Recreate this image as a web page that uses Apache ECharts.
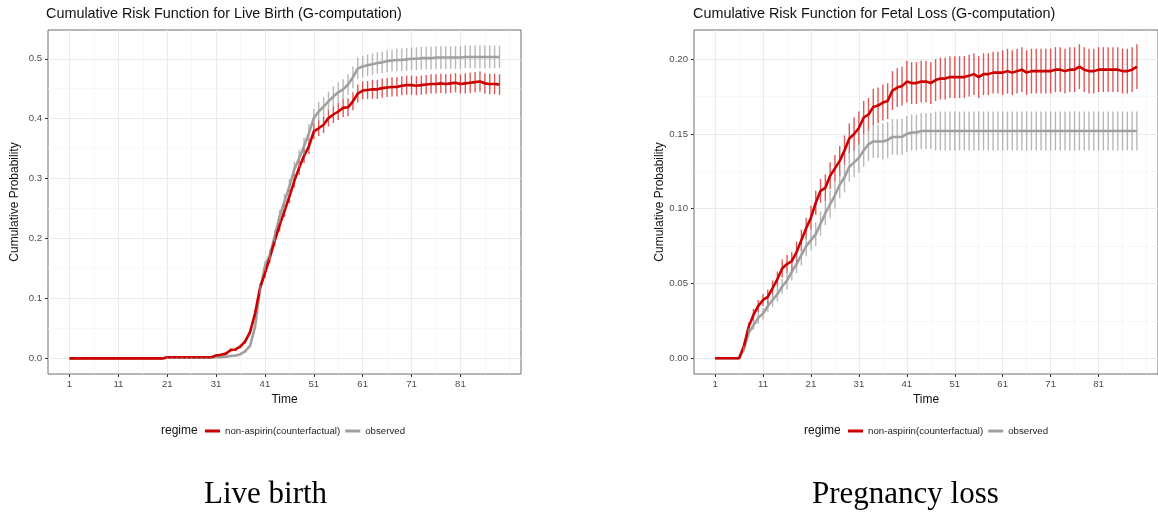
<!DOCTYPE html>
<html>
<head>
<meta charset="utf-8">
<script src="https://cdn.jsdelivr.net/npm/echarts@6.0.0/dist/echarts.min.js"></script>
<style>
    html, body { margin: 0; padding: 0; background: #fff; }
    #main { width: 1158px; height: 516px; }
</style>
</head>
<body>
<div id="main"></div>
<script>
// week index 1..89
var time = [];
for (var i = 1; i <= 89; i++) time.push(i);

var xTicks = [1, 11, 21, 31, 41, 51, 61, 71, 81];
var xMinor = [6, 16, 26, 36, 46, 56, 66, 76, 86, 91];
var lbTicks = [0, 0.1, 0.2, 0.3, 0.4, 0.5];
var lbMinor = [0.05, 0.15, 0.25, 0.35, 0.45];
var flTicks = [0, 0.05, 0.1, 0.15, 0.2];
var flMinor = [0.025, 0.075, 0.125, 0.175];

// live birth
var lbRed = [
    0, 0, 0, 0, 0, 0, 0, 0, 0, 0,
    0, 0, 0, 0, 0, 0, 0, 0, 0, 0,
    0.002, 0.002, 0.002, 0.002, 0.002, 0.002, 0.002, 0.002, 0.002, 0.002,
    0.005, 0.006, 0.008, 0.014, 0.015, 0.02, 0.029, 0.045, 0.076, 0.118,
    0.142, 0.168, 0.196, 0.222, 0.246, 0.27, 0.296, 0.318, 0.338, 0.354,
    0.379, 0.384, 0.39, 0.401, 0.407, 0.412, 0.418, 0.419, 0.429, 0.442,
    0.447, 0.448, 0.449, 0.449, 0.451, 0.452, 0.453, 0.453, 0.455, 0.456,
    0.456, 0.455, 0.456, 0.457, 0.458, 0.458, 0.459, 0.458, 0.459, 0.46,
    0.458, 0.459, 0.46, 0.461, 0.462, 0.459, 0.458, 0.458, 0.457
];
var lbRedErr = [
    0, 0, 0, 0, 0, 0, 0, 0, 0, 0,
    0, 0, 0, 0, 0, 0, 0, 0, 0, 0,
    0.001, 0.001, 0.001, 0.001, 0.001, 0.001, 0.001, 0.001, 0.001, 0.001,
    0.002, 0.002, 0.002, 0.003, 0.003, 0.003, 0.004, 0.005, 0.006, 0.007,
    0.008, 0.009, 0.009, 0.01, 0.01, 0.011, 0.011, 0.012, 0.012, 0.013,
    0.013, 0.013, 0.014, 0.014, 0.014, 0.014, 0.015, 0.015, 0.015, 0.015,
    0.015, 0.015, 0.016, 0.016, 0.016, 0.016, 0.016, 0.016, 0.016, 0.016,
    0.016, 0.016, 0.016, 0.016, 0.016, 0.016, 0.016, 0.016, 0.016, 0.016,
    0.016, 0.017, 0.017, 0.017, 0.017, 0.017, 0.017, 0.017, 0.017
];
var lbGrey = [
    0, 0, 0, 0, 0, 0, 0, 0, 0, 0,
    0, 0, 0, 0, 0, 0, 0, 0, 0, 0,
    0.001, 0.001, 0.001, 0.001, 0.001, 0.001, 0.001, 0.001, 0.001, 0.001,
    0.002, 0.002, 0.003, 0.004, 0.005, 0.007, 0.012, 0.022, 0.054, 0.115,
    0.154, 0.173, 0.204, 0.237, 0.262, 0.287, 0.315, 0.334, 0.354, 0.376,
    0.401, 0.412, 0.42, 0.429, 0.437, 0.444, 0.449, 0.457, 0.469, 0.484,
    0.487, 0.489, 0.491, 0.493, 0.494, 0.496, 0.497, 0.498, 0.498, 0.499,
    0.5, 0.5, 0.501, 0.501, 0.501, 0.502, 0.502, 0.502, 0.502, 0.502,
    0.502, 0.503, 0.503, 0.503, 0.503, 0.503, 0.503, 0.503, 0.503
];
var lbGreyErr = [
    0, 0, 0, 0, 0, 0, 0, 0, 0, 0,
    0, 0, 0, 0, 0, 0, 0, 0, 0, 0,
    0.001, 0.001, 0.001, 0.001, 0.001, 0.001, 0.001, 0.001, 0.001, 0.001,
    0.001, 0.001, 0.001, 0.002, 0.002, 0.002, 0.003, 0.004, 0.005, 0.007,
    0.008, 0.009, 0.01, 0.011, 0.012, 0.012, 0.013, 0.014, 0.014, 0.015,
    0.015, 0.016, 0.016, 0.016, 0.017, 0.017, 0.017, 0.017, 0.018, 0.018,
    0.018, 0.018, 0.018, 0.018, 0.018, 0.018, 0.018, 0.019, 0.019, 0.019,
    0.019, 0.019, 0.019, 0.019, 0.019, 0.019, 0.019, 0.019, 0.019, 0.019,
    0.019, 0.019, 0.019, 0.019, 0.019, 0.019, 0.019, 0.019, 0.019
];

// fetal loss
var flRed = [
    0, 0, 0, 0, 0, 0, 0.008, 0.021, 0.029, 0.035,
    0.039, 0.041, 0.047, 0.053, 0.06, 0.063, 0.065, 0.071, 0.079, 0.087,
    0.094, 0.104, 0.112, 0.114, 0.122, 0.127, 0.132, 0.139, 0.147, 0.15,
    0.154, 0.161, 0.163, 0.168, 0.169, 0.171, 0.172, 0.179, 0.181, 0.182,
    0.185, 0.184, 0.184, 0.185, 0.185, 0.184, 0.186, 0.187, 0.187, 0.188,
    0.188, 0.188, 0.188, 0.189, 0.19, 0.188, 0.19, 0.19, 0.191, 0.191,
    0.191, 0.192, 0.191, 0.192, 0.193, 0.191, 0.192, 0.192, 0.192, 0.192,
    0.192, 0.193, 0.193, 0.192, 0.193, 0.193, 0.195, 0.193, 0.192, 0.192,
    0.193, 0.193, 0.193, 0.193, 0.193, 0.192, 0.192, 0.193, 0.195
];
var flRedErr = [
    0, 0, 0, 0, 0, 0, 0.002, 0.003, 0.004, 0.004,
    0.004, 0.005, 0.005, 0.005, 0.006, 0.006, 0.006, 0.007, 0.007, 0.007,
    0.008, 0.008, 0.008, 0.009, 0.009, 0.009, 0.01, 0.01, 0.01, 0.011,
    0.011, 0.011, 0.011, 0.012, 0.012, 0.012, 0.012, 0.013, 0.013, 0.013,
    0.014, 0.014, 0.014, 0.014, 0.014, 0.014, 0.014, 0.014, 0.014, 0.014,
    0.014, 0.014, 0.014, 0.014, 0.014, 0.014, 0.014, 0.014, 0.014, 0.014,
    0.015, 0.015, 0.015, 0.015, 0.015, 0.015, 0.015, 0.015, 0.015, 0.015,
    0.015, 0.015, 0.015, 0.015, 0.015, 0.015, 0.015, 0.015, 0.015, 0.015,
    0.015, 0.015, 0.015, 0.015, 0.015, 0.015, 0.015, 0.015, 0.015
];
var flGrey = [
    0, 0, 0, 0, 0, 0, 0.006, 0.017, 0.022, 0.027,
    0.03, 0.035, 0.039, 0.043, 0.048, 0.052, 0.058, 0.063, 0.069, 0.075,
    0.079, 0.083, 0.09, 0.097, 0.103, 0.109, 0.116, 0.121, 0.128, 0.131,
    0.134, 0.139, 0.143, 0.145, 0.145, 0.145, 0.146, 0.148, 0.148, 0.148,
    0.15, 0.151, 0.151, 0.152, 0.152, 0.152, 0.152, 0.152, 0.152, 0.152,
    0.152, 0.152, 0.152, 0.152, 0.152, 0.152, 0.152, 0.152, 0.152, 0.152,
    0.152, 0.152, 0.152, 0.152, 0.152, 0.152, 0.152, 0.152, 0.152, 0.152,
    0.152, 0.152, 0.152, 0.152, 0.152, 0.152, 0.152, 0.152, 0.152, 0.152,
    0.152, 0.152, 0.152, 0.152, 0.152, 0.152, 0.152, 0.152, 0.152
];
var flGreyErr = [
    0, 0, 0, 0, 0, 0, 0.002, 0.003, 0.003, 0.004,
    0.004, 0.004, 0.005, 0.005, 0.005, 0.006, 0.006, 0.006, 0.007, 0.007,
    0.007, 0.008, 0.008, 0.008, 0.009, 0.009, 0.009, 0.01, 0.01, 0.01,
    0.01, 0.011, 0.011, 0.011, 0.011, 0.012, 0.012, 0.012, 0.012, 0.012,
    0.012, 0.012, 0.012, 0.012, 0.012, 0.012, 0.013, 0.013, 0.013, 0.013,
    0.013, 0.013, 0.013, 0.013, 0.013, 0.013, 0.013, 0.013, 0.013, 0.013,
    0.013, 0.013, 0.013, 0.013, 0.013, 0.013, 0.013, 0.013, 0.013, 0.013,
    0.013, 0.013, 0.013, 0.013, 0.013, 0.013, 0.013, 0.013, 0.013, 0.013,
    0.013, 0.013, 0.013, 0.013, 0.013, 0.013, 0.013, 0.013, 0.013
];

var RED = '#cc0000';
var GREY = '#a0a0a0';
var FONT = 'Liberation Sans';

function toLine(vals) {
    return vals.map(function(v, i) { return [time[i], v]; });
}
function toBars(vals, err) {
    return vals.map(function(v, i) { return [time[i], v - err[i], v + err[i]]; });
}
function errorBar(params, api) {
    var lo = api.coord([api.value(0), api.value(1)]);
    var hi = api.coord([api.value(0), api.value(2)]);
    return {
        type: 'line',
        shape: { x1: lo[0], y1: lo[1], x2: hi[0], y2: hi[1] },
        style: { stroke: api.visual('color'), lineWidth: 1.4 }
    };
}

function majorX(g) {
    return {
        type: 'value', gridIndex: g, min: -3.4, max: 93.4,
        name: 'Time', nameLocation: 'middle', nameGap: 18,
        nameTextStyle: { fontSize: 12, color: '#111', fontFamily: FONT },
        axisLine: { show: false, onZero: false },
        axisTick: { show: true, length: 3, lineStyle: { color: '#333' }, customValues: xTicks },
        axisLabel: { customValues: xTicks, fontSize: 9.6, color: '#4d4d4d', margin: 5, fontFamily: FONT },
        splitLine: { show: true, lineStyle: { color: '#ebebeb', width: 1 } }
    };
}
function minorX(g) {
    return {
        type: 'value', gridIndex: g, min: -3.4, max: 93.4, position: 'bottom',
        axisLine: { show: false, onZero: false },
        axisTick: { show: false, customValues: xMinor },
        axisLabel: { show: false },
        splitLine: { show: true, lineStyle: { color: '#f2f2f2', width: 0.6 } }
    };
}
function majorY(g, min, max, ticks, digits) {
    return {
        type: 'value', gridIndex: g, min: min, max: max,
        name: 'Cumulative Probability', nameLocation: 'middle', nameGap: 27,
        nameTextStyle: { fontSize: 12, color: '#111', fontFamily: FONT },
        axisLine: { show: false, onZero: false },
        axisTick: { show: true, length: 3, lineStyle: { color: '#333' }, customValues: ticks },
        axisLabel: {
            customValues: ticks, fontSize: 9.6, color: '#4d4d4d', margin: 6, fontFamily: FONT,
            formatter: function(v) { return v.toFixed(digits); }
        },
        splitLine: { show: true, lineStyle: { color: '#ebebeb', width: 1 } }
    };
}
function minorY(g, min, max, ticks) {
    return {
        type: 'value', gridIndex: g, min: min, max: max, position: 'left',
        axisLine: { show: false, onZero: false },
        axisTick: { show: false, customValues: ticks },
        axisLabel: { show: false },
        splitLine: { show: true, lineStyle: { color: '#f2f2f2', width: 0.6 } }
    };
}

function panelSeries(ax, red, redErr, grey, greyErr) {
    return [{
        name: 'observed', type: 'line', xAxisIndex: ax, yAxisIndex: ax,
        data: toLine(grey), showSymbol: false, symbol: 'none', z: 2,
        lineStyle: { color: GREY, width: 2.6 }, itemStyle: { color: GREY }
    }, {
        name: 'non-aspirin(counterfactual)', type: 'line', xAxisIndex: ax, yAxisIndex: ax,
        data: toLine(red), showSymbol: false, symbol: 'none', z: 3,
        lineStyle: { color: RED, width: 2.6 }, itemStyle: { color: RED }
    }, {
        name: 'non-aspirin ci', type: 'custom', xAxisIndex: ax, yAxisIndex: ax,
        data: toBars(red, redErr), renderItem: errorBar, encode: { x: 0, y: [1, 2] }, z: 4,
        itemStyle: { color: 'rgba(204,0,0,0.65)' }
    }, {
        name: 'observed ci', type: 'custom', xAxisIndex: ax, yAxisIndex: ax,
        data: toBars(grey, greyErr), renderItem: errorBar, encode: { x: 0, y: [1, 2] }, z: 5,
        itemStyle: { color: 'rgba(160,160,160,0.75)' }
    }];
}

function legendAt(left) {
    return {
        data: ['non-aspirin(counterfactual)', 'observed'],
        left: left, top: 426, padding: 0,
        icon: 'rect', itemWidth: 15, itemHeight: 3, itemGap: 5,
        textStyle: { fontSize: 9.7, color: '#222', fontFamily: FONT }
    };
}

var option = {
    animation: false,
    backgroundColor: '#fff',
    title: [{
        text: 'Cumulative Risk Function for Live Birth (G-computation)',
        left: 46, top: 7, padding: 0,
        textStyle: { fontSize: 14.4, fontWeight: 'normal', color: '#111', fontFamily: FONT }
    }, {
        text: 'Cumulative Risk Function for Fetal Loss (G-computation)',
        left: 693, top: 7, padding: 0,
        textStyle: { fontSize: 14.4, fontWeight: 'normal', color: '#111', fontFamily: FONT }
    }, {
        text: 'Live birth', left: 204, top: 479, padding: 0,
        textStyle: { fontSize: 31, fontWeight: 'normal', color: '#000', fontFamily: 'Liberation Serif' }
    }, {
        text: 'Pregnancy loss', left: 812, top: 479, padding: 0,
        textStyle: { fontSize: 31, fontWeight: 'normal', color: '#000', fontFamily: 'Liberation Serif' }
    }],
    legend: [legendAt(205), legendAt(848)],
    graphic: [{
        type: 'text', left: 161, top: 425,
        style: { text: 'regime', fontSize: 12, fill: '#111', fontFamily: FONT }
    }, {
        type: 'text', left: 804, top: 425,
        style: { text: 'regime', fontSize: 12, fill: '#111', fontFamily: FONT }
    }],
    grid: [{
        left: 48, top: 30, width: 473, height: 344,
        show: true, backgroundColor: '#fff', borderColor: '#6e6e6e', borderWidth: 1
    }, {
        left: 694, top: 30, width: 466, height: 344,
        show: true, backgroundColor: '#fff', borderColor: '#6e6e6e', borderWidth: 1
    }],
    xAxis: [majorX(0), majorX(1), minorX(0), minorX(1)],
    yAxis: [
        majorY(0, -0.026, 0.548, lbTicks, 1),
        majorY(1, -0.0105, 0.2195, flTicks, 2),
        minorY(0, -0.026, 0.548, lbMinor),
        minorY(1, -0.0105, 0.2195, flMinor)
    ],
    series: panelSeries(0, lbRed, lbRedErr, lbGrey, lbGreyErr)
        .concat(panelSeries(1, flRed, flRedErr, flGrey, flGreyErr))
};

var myChart = echarts.init(document.getElementById('main'));
myChart.setOption(option);
</script>
</body>
</html>
